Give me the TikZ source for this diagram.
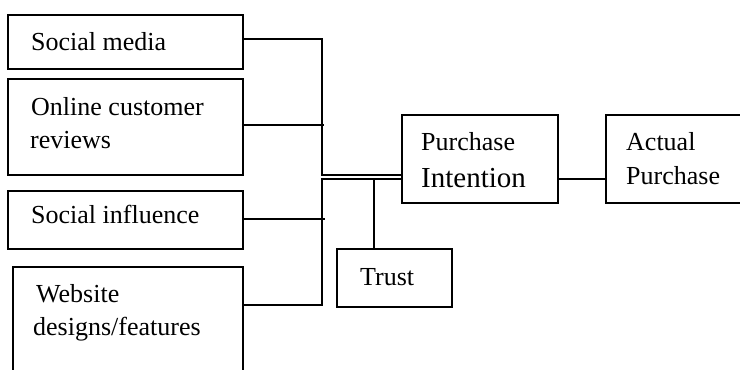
\documentclass[tikz,border=0pt]{standalone}
\usepackage{fontspec}
\setmainfont{Liberation Serif}
\begin{document}
\begin{tikzpicture}[x=1pt,y=-1pt,
  box/.style={draw=black, line width=1.5pt, rectangle, inner sep=0pt},
  txt/.style={anchor=base west, inner sep=0pt, font=\fontsize{26}{33}\selectfont},
  big/.style={anchor=base west, inner sep=0pt, font=\fontsize{29}{35}\selectfont},
  conn/.style={draw=black, line width=1.5pt}]
\clip (0,0) rectangle (740,370);
\fill[white] (0,0) rectangle (740,370);
% boxes
\node[box, minimum width=235, minimum height=54] (sm) at (125.5,42) {};
\node[box, minimum width=235, minimum height=96] (or) at (125.5,127) {};
\node[box, minimum width=235, minimum height=58] (si) at (125.5,220) {};
\node[box, minimum width=230, minimum height=136] (wd) at (128,335) {};
\node[box, minimum width=115, minimum height=58] (tr) at (394.5,278) {};
\node[box, minimum width=156, minimum height=88] (pi) at (480,159) {};
\node[box, minimum width=240, minimum height=88] (ap) at (726,159) {};
% texts
\node[txt] (smt) at (31,50) {Social media};
\node[txt] (ort1) at (31,115) {Online customer};
\node[txt] (ort2) at (30,148) {reviews};
\node[txt] (sit) at (31,223) {Social influence};
\node[txt] (wdt1) at (36,302) {Website};
\node[txt] (wdt2) at (33,335) {designs/features};
\node[txt] (trt) at (360,285) {Trust};
\node[txt] (pit1) at (421,150) {Purchase};
\node[big] (pit2) at (421,187) {Intention};
\node[txt] (apt1) at (626,150) {Actual};
\node[txt] (apt2) at (626,184) {Purchase};
% bus coordinates
\coordinate (b1) at (322,39);
\coordinate (b2) at (324,125);
\coordinate (jt) at (322,175);
\coordinate (jb) at (322,179);
\coordinate (b3) at (325,219);
\coordinate (b4) at (322,305);
\coordinate (tj) at (374,179);
% connectors
\draw[conn] (sm.east |- b1) -- (b1) -- (jt) -- (pi.west |- jt);
\draw[conn] ([xshift=-2pt]or.east |- b2) -- (b2);
\draw[conn] (pi.west |- jb) -- (jb) -- (b4) -- (wd.east |- b4);
\draw[conn] (si.east |- b3) -- (b3);
\draw[conn] (tj) -- (tr.north -| tj);
\draw[conn] (pi.east |- jb) -- (ap.west |- jb);
\end{tikzpicture}
\end{document}
